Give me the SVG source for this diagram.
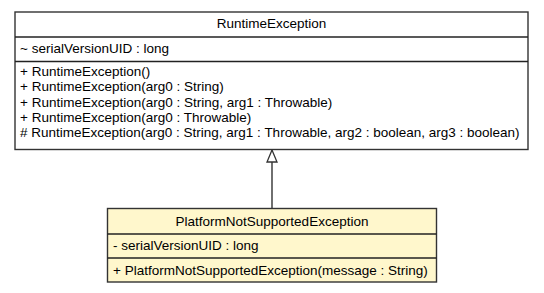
<svg xmlns="http://www.w3.org/2000/svg" width="544" height="293" viewBox="0 0 544 293">
  <style>
    .box { stroke: #333333; stroke-width: 1.4; }
    .sep { stroke: #222222; stroke-width: 1.4; }
    text { font-family: "Liberation Sans", Arial, Helvetica, sans-serif; font-size: 13.5px; fill: #000000; }
    .title { text-anchor: middle; }
    .edge { stroke: #333333; stroke-width: 1.4; fill: none; }
  </style>
  <defs>
    <!-- hollow triangle for generalization, tip pointing along +x -->
    <marker id="extends" markerWidth="14" markerHeight="12" refX="13" refY="6" orient="auto" markerUnits="userSpaceOnUse" viewBox="0 0 14 12">
      <polygon points="13,6 1,1 1,11" fill="#ffffff" stroke="#333333" stroke-width="1.3"/>
    </marker>
  </defs>
  <rect width="544" height="293" fill="#ffffff"/>

  <g id="connectors">
    <line class="edge" x1="272" y1="209" x2="272" y2="150" marker-end="url(#extends)"/>
  </g>

  <g id="RuntimeException">
    <rect class="box" x="15" y="12" width="513" height="137.5" fill="#ffffff"/>
    <line class="sep" x1="15" y1="37" x2="528" y2="37"/>
    <line class="sep" x1="15" y1="61.5" x2="528" y2="61.5"/>
    <text class="title" x="271.5" y="28">RuntimeException</text>
    <text x="20" y="53">~ serialVersionUID : long</text>
    <text x="20" y="76">+ RuntimeException()</text>
    <text x="20" y="91">+ RuntimeException(arg0 : String)</text>
    <text x="20" y="106.5">+ RuntimeException(arg0 : String, arg1 : Throwable)</text>
    <text x="20" y="121.5">+ RuntimeException(arg0 : Throwable)</text>
    <text x="20" y="136.5"># RuntimeException(arg0 : String, arg1 : Throwable, arg2 : boolean, arg3 : boolean)</text>
  </g>

  <g id="PlatformNotSupportedException">
    <rect class="box" x="107.5" y="208.5" width="329" height="73.5" fill="#fff7cc"/>
    <line class="sep" x1="107.5" y1="234" x2="436.5" y2="234"/>
    <line class="sep" x1="107.5" y1="258" x2="436.5" y2="258"/>
    <text class="title" x="272" y="226">PlatformNotSupportedException</text>
    <text x="113" y="250">- serialVersionUID : long</text>
    <text x="113" y="275">+ PlatformNotSupportedException(message : String)</text>
  </g>
</svg>
